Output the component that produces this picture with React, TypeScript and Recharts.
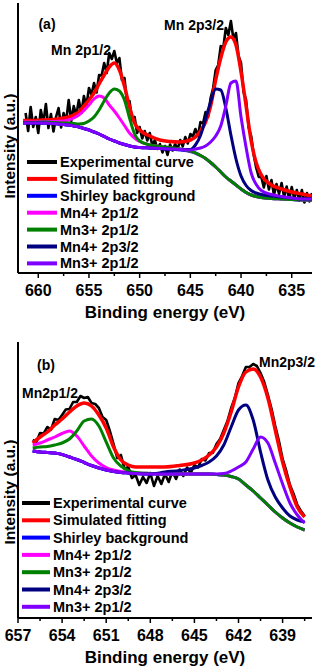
import { Customized, Line, LineChart, XAxis, YAxis } from 'recharts'

const narrow = "'Liberation Sans Narrow', 'Arial Narrow', 'Liberation Sans', Arial, sans-serif"
const wide = "'Liberation Sans', Arial, sans-serif"

const seriesNames = [
	'Experimental curve',
	'Simulated fitting',
	'Shirley background',
	'Mn4+ 2p1/2',
	'Mn3+ 2p1/2',
	'Mn4+ 2p3/2',
	'Mn3+ 2p1/2',
]
const seriesColors = ['#000000', '#ff0000', '#0000ff', '#ff00ff', '#008000', '#000080', '#8000ff']

// ---- panel (a) ----
const ticksA = [660, 657.5, 655, 652.5, 650, 647.5, 645, 642.5, 640, 637.5, 635]
const majorsA = [660, 655, 650, 645, 640, 635]

const energyA = [661.5, 660.5, 659.5, 658.5, 657.5, 657, 656.5, 656, 655.5, 655, 654.5, 654, 653.5, 653, 652.5, 652, 651.5, 651, 650.5, 650, 649, 648, 647, 646, 645, 644.5, 644, 643.5, 643, 642.5, 642, 641.5, 641, 640.5, 640, 639.5, 639, 638.5, 638, 637, 636, 635, 634, 633]
const fitA = [152.5, 152.5, 153, 153.5, 155, 156, 158, 161, 167, 173, 180, 189, 198, 206, 210, 203, 187, 166, 150, 143, 137, 133, 131.5, 131, 133, 136, 142, 151, 167, 193, 215, 231, 236, 228, 201, 167, 132, 110, 98, 88, 84, 81, 79, 77]
const shirleyA = [150, 150, 150, 149.5, 148.5, 148, 147, 146, 144.5, 143, 141, 139, 136.5, 134, 132, 130, 128.5, 127, 126, 125.5, 125, 124.5, 124, 123, 121.5, 120, 117.5, 114.5, 110.5, 106, 101, 96, 92, 88, 84, 80.5, 78, 76.5, 75.5, 74.5, 74, 73.5, 73, 73]
const mn4p12A = [151, 151, 151.5, 151.5, 152, 153, 155, 158, 162.5, 168, 174, 177, 175, 168, 162, 155, 147.5, 140, 135, 131.5, 128, 126.5, 125, 124, 122, 120, 117.5, 114.5, 110.5, 106, 101, 96, 92, 88, 84, 80.5, 78, 76.5, 75.5, 74.5, 74, 73.5, 73, 73]
const mn3p12A = [150.5, 150.5, 151, 150.5, 150, 150, 149.5, 149, 149.5, 152, 156, 163, 172, 180, 184, 182, 173, 155, 139, 132, 128, 126.5, 125.5, 124, 122, 120, 117.5, 114.5, 110.5, 106, 101, 96, 92, 88, 84, 80.5, 78, 76.5, 75.5, 74.5, 74, 73.5, 73, 73]
const mn4p32A = [150, 150, 150, 149.5, 148.5, 148, 147, 146, 144.5, 143, 141, 139, 136.5, 134, 132, 130, 128.5, 127, 126, 125.5, 125, 124.5, 124, 123.5, 123.5, 128, 137.5, 154, 171, 184, 183, 165, 138, 114, 97, 87.5, 82.5, 80, 78.5, 77, 76, 75, 74, 74]
const mn3p32A = [150, 150, 150, 149.5, 148.5, 148, 147, 146, 144.5, 143, 141, 139, 136.5, 134, 132, 130, 128.5, 127, 126, 125.5, 125, 124.5, 124, 123.5, 123, 124, 125, 127, 131, 137, 147, 167, 190, 192, 156, 125.5, 100, 88.5, 82.5, 78.5, 76.5, 75, 74, 74]

const expEnergyA = [661.25, 661, 660.75, 660.5, 660.25, 660, 659.75, 659.5, 659.25, 659, 658.75, 658.5, 658.25, 658, 657.75, 657.5, 657.25, 657, 656.75, 656.5, 656.25, 656, 655.75, 655.5, 655.25, 655, 654.75, 654.5, 654.25, 654, 653.75, 653.5, 653.25, 653, 652.75, 652.5, 652.25, 652, 651.75, 651.5, 651.25, 651, 650.75, 650.5, 650.25, 650, 649.75, 649.5, 649.25, 649, 648.75, 648.5, 648.25, 648, 647.75, 647.5, 647.25, 647, 646.75, 646.5, 646.25, 646, 645.75, 645.5, 645.25, 645, 644.75, 644.5, 644.25, 644, 643.75, 643.5, 643.25, 643, 642.75, 642.5, 642.25, 642, 641.75, 641.5, 641.25, 641, 640.75, 640.5, 640.25, 640, 639.75, 639.5, 639.25, 639, 638.75, 638.5, 638.25, 638, 637.75, 637.5, 637.25, 637, 636.75, 636.5, 636.25, 636, 635.75, 635.5, 635.25, 635, 634.75, 634.5, 634.25, 634, 633.75, 633.5, 633.25, 633]
const expA = [160, 142, 166, 146, 156, 140, 163, 150, 169, 145, 159, 141.5, 156, 165, 145.5, 160, 151.5, 173, 152, 167, 157.5, 173, 160, 177, 167, 185, 178.5, 190, 180.5, 198, 197.5, 210, 200, 220, 214, 222, 210, 215, 193, 195, 171, 172, 153, 156, 140, 146, 134.5, 142, 132.5, 140, 127, 133, 124, 129, 120.5, 127, 118, 128.5, 122.5, 129, 124, 133, 126.5, 136, 129.5, 139, 136.5, 144, 137, 151, 149.5, 161, 156, 175, 185, 203, 208, 227, 225, 245, 238, 252, 234, 240, 217, 210, 181, 173, 145.5, 137, 118, 105, 96, 96, 85.5, 97, 83.5, 93, 78, 89, 79, 90, 76, 86.5, 73.5, 86, 74.5, 83, 72.5, 83, 70.5, 80, 71.5, 80]

// ---- panel (b) ----
const ticksB = [657, 655.5, 654, 652.5, 651, 649.5, 648, 646.5, 645, 643.5, 642, 640.5, 639, 637.5]
const majorsB = [657, 654, 651, 648, 645, 642, 639]

const energyB = [656, 655.5, 655, 654.5, 654, 653.5, 653, 652.5, 652, 651.5, 651, 650.5, 650, 649.5, 649, 648, 647, 646, 645, 644.5, 644, 643.5, 643, 642.5, 642, 641.5, 641, 640.5, 640, 639.5, 639, 638.5, 638, 637.5]
const fitB = [175, 181, 186, 193, 199, 206, 212, 215, 212, 203, 190, 171, 158, 153, 151, 151, 151, 152.5, 155, 158, 163, 171, 185, 206, 231, 246, 249, 241, 220, 188, 156, 131, 111, 101]
const shirleyB = [167, 166, 165.5, 165, 163.5, 161, 158.5, 155.5, 152.5, 150, 148, 146.5, 145.5, 145, 144.5, 144, 144, 144, 144, 144, 144, 143.5, 143, 141.5, 139, 133, 127, 120, 113, 106, 100, 95, 91, 88]
const mn4p12B = [173, 175, 178, 181, 184.5, 187, 182, 172, 162, 155, 150.5, 148, 146.5, 145.5, 145, 144.5, 144, 144, 144, 144, 144, 143.5, 143, 141.5, 139, 133, 127, 120, 113, 106, 100, 95, 91, 88]
const mn3p12B = [170, 171, 171.5, 173, 175, 179, 187, 197, 199, 192, 176, 160, 152, 147.5, 145.5, 144.5, 144, 144, 144, 144, 144, 143.5, 143, 141.5, 139, 133, 127, 120, 113, 106, 100, 95, 91, 88]
const mn4p32B = [167, 166, 165.5, 165, 163.5, 161, 158.5, 155.5, 152.5, 150, 148, 146.5, 145.5, 145, 144.5, 144, 146, 147.5, 150, 152.5, 156, 162, 173, 191, 208, 213, 198, 166, 138, 121, 110, 102, 98, 96]
const mn3p32B = [167, 166, 165.5, 165, 163.5, 161, 158.5, 155.5, 152.5, 150, 148, 146.5, 145.5, 145, 144.5, 144, 144, 144, 144, 144, 144, 144, 144.5, 147, 151, 156, 169, 181, 175, 155, 134, 115, 103, 95]

const expEnergyB = [656, 655.75, 655.5, 655.25, 655, 654.75, 654.5, 654.25, 654, 653.75, 653.5, 653.25, 653, 652.75, 652.5, 652.25, 652, 651.75, 651.5, 651.25, 651, 650.75, 650.5, 650.25, 650, 649.75, 649.5, 649.25, 649, 648.75, 648.5, 648.25, 648, 647.75, 647.5, 647.25, 647, 646.75, 646.5, 646.25, 646, 645.75, 645.5, 645.25, 645, 644.75, 644.5, 644.25, 644, 643.75, 643.5, 643.25, 643, 642.75, 642.5, 642.25, 642, 641.75, 641.5, 641.25, 641, 640.75, 640.5, 640.25, 640, 639.75, 639.5, 639.25, 639, 638.75, 638.5, 638.25, 638, 637.75, 637.5]
const expB = [178, 176, 185, 184.5, 191, 188.5, 199, 198, 203, 208.5, 209, 216, 216, 222, 220, 221, 215, 214, 210, 201, 198, 187, 174, 160, 163, 149, 151, 140, 143, 133, 141, 135, 145, 132, 142, 134, 144, 136, 146.5, 139, 148.5, 142, 150.5, 145, 153, 150.5, 159, 157.5, 165, 165, 174, 179, 188, 197, 210, 220, 235, 242, 251, 251, 254, 252, 245, 236, 223, 209, 192, 177, 159, 147, 133, 124, 113, 107, 102]

const buildFit = (energy: number[], fit: number[], shirley: number[], m4a: number[], m3a: number[], m4b: number[], m3b: number[]) =>
	energy.map((e, i) => ({ e, fit: fit[i], shirley: shirley[i], m4a: m4a[i], m3a: m3a[i], m4b: m4b[i], m3b: m3b[i] }))
const buildExp = (energy: number[], values: number[]) => energy.map((e, i) => ({ e, exp: values[i] }))

const fitDataA = buildFit(energyA, fitA, shirleyA, mn4p12A, mn3p12A, mn4p32A, mn3p32A)
const expDataA = buildExp(expEnergyA, expA)
const fitDataB = buildFit(energyB, fitB, shirleyB, mn4p12B, mn3p12B, mn4p32B, mn3p32B)
const expDataB = buildExp(expEnergyB, expB)

const axisStyle = { stroke: '#000', strokeWidth: 2 }

const makeTick = (majors: number[]) => (props: any) => {
	const { x, y, payload } = props
	const major = majors.includes(payload.value)
	return (
		<g>
			<line x1={x} x2={x} y1={y} y2={y + (major ? 5 : 3)} stroke='#000' strokeWidth={1.5} />
			{major && (
				<text x={x} y={y + 22.5} textAnchor='middle' fontFamily={narrow} fontWeight='bold' fontSize={16} fill='#000'>
					{payload.value}
				</text>
			)}
		</g>
	)
}

type Note = { text: string; x: number; y: number }

type PanelProps = {
	height: number
	top: number
	bottom: number
	xDomain: [number, number]
	yMax: number
	ticks: number[]
	majors: number[]
	fit: any[]
	exp: any[]
	legend: { x: number; y: number; step: number; len: number }
	notes: Note[]
	yLabelY: number
}

const Panel = (p: PanelProps) => {
	const plotBottom = p.height - p.bottom
	const overlay = () => (
		<g>
			<text
				transform={`translate(14.5,${p.yLabelY}) rotate(-90)`}
				textAnchor='middle'
				fontFamily={wide}
				fontWeight='bold'
				fontSize={15.5}
				fill='#000'
			>
				Intensity (a.u.)
			</text>
			<text x={165} y={plotBottom + 45} textAnchor='middle' fontFamily={narrow} fontWeight='bold' fontSize={17} fill='#000'>
				Binding energy (eV)
			</text>
			{p.notes.map((n) => (
				<text key={n.text} x={n.x} y={n.y} textAnchor='middle' fontFamily={narrow} fontWeight='bold' fontSize={14} fill='#000'>
					{n.text}
				</text>
			))}
			{seriesNames.map((name, i) => {
				const cy = p.legend.y + i * p.legend.step
				return (
					<g key={i}>
						<line x1={p.legend.x} x2={p.legend.x + p.legend.len} y1={cy} y2={cy} stroke={seriesColors[i]} strokeWidth={4} />
						<text x={p.legend.x + p.legend.len + 3} y={cy + 5} fontFamily={narrow} fontWeight='bold' fontSize={14.5} fill='#000'>
							{name}
						</text>
					</g>
				)
			})}
		</g>
	)
	return (
		<LineChart width={315} height={p.height} data={p.fit} margin={{ top: p.top, right: 3, bottom: 0, left: 0 }}>
			<XAxis
				dataKey='e'
				type='number'
				domain={p.xDomain}
				reversed
				allowDataOverflow
				ticks={p.ticks}
				interval={0}
				tickSize={0}
				tickMargin={0}
				tickLine={false}
				tick={makeTick(p.majors)}
				height={p.bottom}
				axisLine={axisStyle}
			/>
			<XAxis
				xAxisId='top'
				orientation='top'
				dataKey='e'
				type='number'
				domain={p.xDomain}
				reversed
				allowDataOverflow
				tick={false}
				tickLine={false}
				height={0}
				axisLine={axisStyle}
			/>
			<YAxis type='number' domain={[0, p.yMax]} allowDataOverflow tick={false} tickLine={false} width={18} axisLine={axisStyle} />
			<YAxis
				yAxisId='right'
				orientation='right'
				type='number'
				domain={[0, p.yMax]}
				allowDataOverflow
				tick={false}
				tickLine={false}
				width={0}
				axisLine={axisStyle}
			/>
			<Line data={p.exp} dataKey='exp' type='linear' stroke={seriesColors[0]} strokeWidth={2.6} strokeLinejoin='round' dot={false} isAnimationActive={false} />
			<Line dataKey='fit' type='monotone' stroke={seriesColors[1]} strokeWidth={3.5} dot={false} isAnimationActive={false} />
			<Line dataKey='shirley' type='monotone' stroke={seriesColors[2]} strokeWidth={3} dot={false} isAnimationActive={false} />
			<Line dataKey='m4a' type='monotone' stroke={seriesColors[3]} strokeWidth={3} dot={false} isAnimationActive={false} />
			<Line dataKey='m3a' type='monotone' stroke={seriesColors[4]} strokeWidth={3} dot={false} isAnimationActive={false} />
			<Line dataKey='m4b' type='monotone' stroke={seriesColors[5]} strokeWidth={3} dot={false} isAnimationActive={false} />
			<Line dataKey='m3b' type='monotone' stroke={seriesColors[6]} strokeWidth={3} dot={false} isAnimationActive={false} />
			<Customized component={overlay} />
		</LineChart>
	)
}

const App = () => {
	return (
		<div style={{ position: 'absolute', left: 0, top: 0, width: 315, height: 667, background: '#fff' }}>
			<Panel
				height={330}
				top={3}
				bottom={57}
				xDomain={[633, 662]}
				yMax={270}
				ticks={ticksA}
				majors={majorsA}
				fit={fitDataA}
				exp={expDataA}
				legend={{ x: 27, y: 162, step: 16.9, len: 30 }}
				notes={[
					{ text: '(a)', x: 47, y: 29 },
					{ text: 'Mn 2p1/2', x: 81, y: 55 },
					{ text: 'Mn 2p3/2', x: 194, y: 30 },
				]}
				yLabelY={146}
			/>
			<Panel
				height={337}
				top={12}
				bottom={49}
				xDomain={[637, 657]}
				yMax={276}
				ticks={ticksB}
				majors={majorsB}
				fit={fitDataB}
				exp={expDataB}
				legend={{ x: 22, y: 173, step: 17.3, len: 28 }}
				notes={[
					{ text: '(b)', x: 46, y: 40 },
					{ text: 'Mn2p1/2', x: 50, y: 68 },
					{ text: 'Mn2p3/2', x: 287, y: 37 },
				]}
				yLabelY={162}
			/>
		</div>
	)
}

export default App
